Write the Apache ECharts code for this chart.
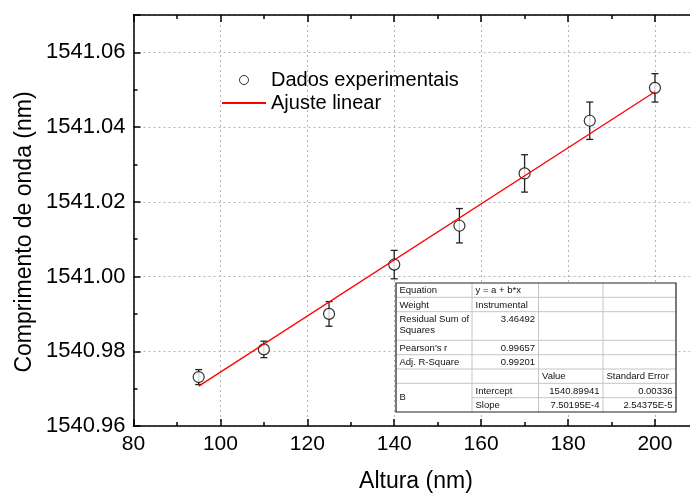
<!DOCTYPE html>
<html>
<head>
<meta charset="utf-8">
<script src="https://cdn.jsdelivr.net/npm/echarts@6/dist/echarts.min.js"></script>
<style>
  html, body { margin: 0; padding: 0; background: #fff; }
  #chart { width: 690px; height: 493px; }
</style>
</head>
<body>
<div id="chart"></div>
<script>
// Measured data: height (nm) vs. wavelength (nm) with error bars
const alturas = [95, 110, 125, 140, 155, 170, 185, 200];
const comprimentos = [1540.9731, 1540.9805, 1540.9900, 1541.0032, 1541.0136, 1541.0276, 1541.0417, 1541.0505];
const erros = [0.0020, 0.0022, 0.0033, 0.0038, 0.0046, 0.0050, 0.0050, 0.0038];

// Linear fit parameters (y = a + b*x)
const intercepto = 1540.89941;
const inclinacao = 7.50195e-4;

// Tick labels
const xTickLabels = [80, 100, 120, 140, 160, 180, 200];
const yTickLabels = ['1540.96', '1540.98', '1541.00', '1541.02', '1541.04', '1541.06'];

// Fit statistics table
const tabelaLinhas = [
  ['Equation', 'y = a + b*x', '', ''],
  ['Weight', 'Instrumental', '', ''],
  ['Residual Sum of\nSquares', '3.46492', '', ''],
  ["Pearson's r", '0.99657', '', ''],
  ['Adj. R-Square', '0.99201', '', ''],
  ['', '', 'Value', 'Standard Error'],
  ['B', 'Intercept', '1540.89941', '0.00336'],
  ['', 'Slope', '7.50195E-4', '2.54375E-5']
];

const FONT = '"Liberation Sans", Arial, Helvetica, sans-serif';

const pontos = alturas.map((x, i) => [x, comprimentos[i]]);
const barras = alturas.map((x, i) => [x, comprimentos[i], erros[i]]);
const xIni = alturas[0], xFim = alturas[alturas.length - 1];
const ajuste = [[xIni, intercepto + inclinacao * xIni], [xFim, intercepto + inclinacao * xFim]];

// ---- table drawn as graphic elements ----
const colX = [396, 472, 538.5, 603, 676];
const rowY = [283, 297.3, 311.7, 340.3, 354.7, 369, 383.3, 397.7, 412];
const numRe = /^[0-9.E-]+$/;
const tabela = [];
tabela.push({ type: 'rect', shape: { x: colX[0], y: rowY[0], width: colX[4] - colX[0], height: rowY[8] - rowY[0] },
  style: { fill: '#fff', stroke: 'none' }, z: 50 });
for (let r = 1; r < rowY.length - 1; r++) {
  const x0 = r === 7 ? colX[1] : colX[0];
  tabela.push({ type: 'line', shape: { x1: x0, y1: rowY[r], x2: colX[4], y2: rowY[r] },
    style: { stroke: '#c4c4c4', lineWidth: 1 }, z: 51 });
}
for (let c = 1; c < colX.length - 1; c++) {
  tabela.push({ type: 'line', shape: { x1: colX[c], y1: rowY[0], x2: colX[c], y2: rowY[8] },
    style: { stroke: '#c4c4c4', lineWidth: 1 }, z: 51 });
}
tabela.push({ type: 'rect', shape: { x: colX[0], y: rowY[0], width: colX[4] - colX[0], height: rowY[8] - rowY[0] },
  style: { fill: 'none', stroke: '#222', lineWidth: 1.2 }, z: 52 });
tabelaLinhas.forEach((linha, r) => {
  linha.forEach((txt, c) => {
    if (!txt) return;
    const right = numRe.test(txt) && c > 0;
    let y, va = 'middle';
    if (r === 2) { y = rowY[2] + 2.5; va = 'top'; }
    else if (r === 6 && c === 0) { y = (rowY[6] + rowY[8]) / 2; }
    else { y = (rowY[r] + rowY[r + 1]) / 2 + 0.5; }
    tabela.push({ type: 'text', z: 53,
      style: { text: txt, x: right ? colX[c + 1] - 3.5 : colX[c] + 3.5, y: y,
        align: right ? 'right' : 'left', verticalAlign: va,
        font: '9.5px ' + FONT, fill: '#111', lineHeight: 11 } });
  });
});

const chart = echarts.init(document.getElementById('chart'), null, { renderer: 'canvas' });

const gridRect = { left: 133.5, top: 15, right: -8.4, bottom: 67, outerBoundsMode: 'none', containLabel: false };
const axisLine = { show: true, lineStyle: { color: '#000', width: 1.5 } };
const gridLine = { show: true, lineStyle: { color: '#b4b4b4', width: 1, type: [2, 3] } };
const majorTick = { inside: true, length: 7, lineStyle: { color: '#000', width: 1.5 } };
const minorTick = { inside: true, length: 4, lineStyle: { color: '#000', width: 1.5 } };

chart.setOption({
  animation: false,
  backgroundColor: '#fff',
  grid: [Object.assign({}, gridRect), Object.assign({}, gridRect)],
  xAxis: [
    { gridIndex: 0, type: 'value', position: 'bottom', min: 80, max: 210, interval: 20,
      axisLine: axisLine, axisTick: majorTick, splitLine: gridLine,
      axisLabel: { margin: 8, color: '#000', fontSize: 21, fontFamily: FONT,
        formatter: v => (xTickLabels.indexOf(v) >= 0 ? String(v) : '') },
      name: 'Altura (nm)', nameLocation: 'middle', nameGap: 44,
      nameTextStyle: { fontSize: 23, fontFamily: FONT, color: '#000' } },
    { gridIndex: 0, type: 'value', position: 'top', min: 80, max: 210, interval: 20,
      axisLine: axisLine, axisTick: majorTick, splitLine: { show: false }, axisLabel: { show: false } },
    { gridIndex: 1, type: 'value', position: 'bottom', min: 80, max: 210, interval: 10,
      axisLine: { show: false }, axisTick: minorTick, splitLine: { show: false }, axisLabel: { show: false } },
    { gridIndex: 1, type: 'value', position: 'top', min: 80, max: 210, interval: 10,
      axisLine: { show: false }, axisTick: minorTick, splitLine: { show: false }, axisLabel: { show: false } }
  ],
  yAxis: [
    { gridIndex: 0, type: 'value', position: 'left', min: 1540.96, max: 1541.07, interval: 0.02,
      axisLine: axisLine, axisTick: majorTick, splitLine: gridLine,
      axisLabel: { margin: 8, color: '#000', fontSize: 22, fontFamily: FONT,
        formatter: v => { const s = v.toFixed(2); return yTickLabels.indexOf(s) >= 0 ? s : ''; } } },
    { gridIndex: 1, type: 'value', position: 'left', min: 1540.96, max: 1541.07, interval: 0.01,
      axisLine: { show: false }, axisTick: minorTick, splitLine: { show: false }, axisLabel: { show: false } }
  ],
  legend: {
    left: 221, top: 70, padding: 0, orient: 'vertical', itemWidth: 44, itemHeight: 9, itemGap: 3,
    textStyle: { fontSize: 20, fontFamily: FONT, color: '#000', lineHeight: 20 },
    data: [
      { name: 'Dados experimentais', itemStyle: { color: '#fff', borderColor: '#000', borderWidth: 1 } },
      { name: 'Ajuste linear', itemStyle: { opacity: 0 } }
    ]
  },
  graphic: [
    { type: 'text', x: 25, y: 232, rotation: Math.PI / 2, z: 10,
      style: { text: 'Comprimento de onda (nm)', font: '23px ' + FONT, fill: '#000',
        align: 'center', verticalAlign: 'middle' } }
  ].concat(tabela),
  series: [
    { name: 'Barras de erro', type: 'custom', xAxisIndex: 0, yAxisIndex: 0, z: 3,
      data: barras,
      renderItem: (params, api) => {
        const x = api.value(0), y = api.value(1), e = api.value(2);
        const top = api.coord([x, y + e]), bot = api.coord([x, y - e]);
        const w = 3.5;
        const st = { stroke: '#222', lineWidth: 1.3 };
        return { type: 'group', children: [
          { type: 'line', shape: { x1: top[0], y1: top[1], x2: bot[0], y2: bot[1] }, style: st },
          { type: 'line', shape: { x1: top[0] - w, y1: top[1], x2: top[0] + w, y2: top[1] }, style: st },
          { type: 'line', shape: { x1: bot[0] - w, y1: bot[1], x2: bot[0] + w, y2: bot[1] }, style: st }
        ] };
      } },
    { name: 'Dados experimentais', type: 'scatter', xAxisIndex: 0, yAxisIndex: 0, z: 4,
      symbol: 'circle', symbolSize: 11, data: pontos,
      itemStyle: { color: '#fff', borderColor: '#000', borderWidth: 1.2 } },
    { name: 'Ajuste linear', type: 'line', xAxisIndex: 0, yAxisIndex: 0, z: 5,
      data: ajuste, showSymbol: false, symbol: 'none',
      lineStyle: { color: '#ff0000', width: 1.3 }, itemStyle: { color: '#ff0000' } }
  ]
});
</script>
</body>
</html>
